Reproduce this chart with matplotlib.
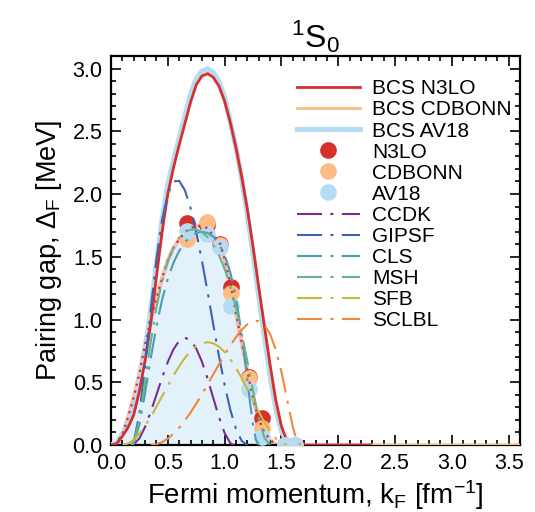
import matplotlib
matplotlib.use("Agg")
import matplotlib.pyplot as plt
from matplotlib.ticker import MultipleLocator

plt.rcParams['font.family'] = ['Liberation Sans', 'DejaVu Sans']
plt.rcParams['mathtext.fontset'] = 'custom'
plt.rcParams['mathtext.rm'] = 'Liberation Sans'
plt.rcParams['mathtext.it'] = 'Liberation Sans:italic'
plt.rcParams['mathtext.bf'] = 'Liberation Sans:bold'

# ---- BCS gaps (solid curves) ----
bcs_n3lo_k = [0.00, 0.05, 0.10, 0.15, 0.20, 0.25, 0.30, 0.35, 0.40, 0.45,
              0.50, 0.55, 0.60, 0.65, 0.70, 0.75, 0.80, 0.85, 0.90, 0.95,
              1.00, 1.05, 1.10, 1.15, 1.20, 1.25, 1.30, 1.35, 1.40, 1.45,
              1.50, 1.55, 1.60, 2.28]
bcs_n3lo_gap = [0.0, 0.01, 0.07, 0.14, 0.24, 0.43, 0.67, 0.97, 1.34, 1.70,
                2.00, 2.21, 2.39, 2.56, 2.73, 2.87, 2.94, 2.96, 2.93, 2.86,
                2.74, 2.57, 2.37, 2.14, 1.88, 1.58, 1.26, 0.95, 0.64, 0.36,
                0.15, 0.03, 0.0, 0.0]

bcs_cdbonn_k = [0.00, 0.05, 0.10, 0.15, 0.20, 0.25, 0.30, 0.35, 0.40, 0.45,
                0.50, 0.55, 0.60, 0.65, 0.70, 0.75, 0.80, 0.85, 0.90, 0.95,
                1.00, 1.05, 1.10, 1.15, 1.20, 1.25, 1.30, 1.35, 1.40, 1.45,
                1.50, 1.55, 1.60, 3.60]
bcs_cdbonn_gap = [0.0, 0.02, 0.09, 0.17, 0.28, 0.50, 0.76, 1.08, 1.45, 1.80,
                  2.08, 2.27, 2.45, 2.62, 2.80, 2.92, 2.98, 2.99, 2.96, 2.88,
                  2.74, 2.55, 2.33, 2.08, 1.79, 1.47, 1.13, 0.81, 0.51, 0.25,
                  0.09, 0.01, 0.0, 0.0]

bcs_av18_k = [0.00, 0.05, 0.10, 0.15, 0.20, 0.25, 0.30, 0.35, 0.40, 0.45,
              0.50, 0.55, 0.60, 0.65, 0.70, 0.75, 0.80, 0.85, 0.90, 0.95,
              1.00, 1.05, 1.10, 1.15, 1.20, 1.25, 1.30, 1.35, 1.40, 1.45,
              1.50, 1.55, 1.60, 1.65]
bcs_av18_gap = [0.0, 0.02, 0.09, 0.17, 0.28, 0.50, 0.76, 1.08, 1.45, 1.80,
                2.08, 2.27, 2.45, 2.62, 2.80, 2.92, 2.98, 3.00, 2.97, 2.90,
                2.77, 2.58, 2.37, 2.12, 1.84, 1.52, 1.19, 0.87, 0.56, 0.29,
                0.11, 0.02, 0.0, 0.0]

# ---- many-body results (markers) ----
n3lo_k = [0.668, 0.845, 0.963, 1.060, 1.215, 1.333, 1.530, 1.618]
n3lo_gap = [1.770, 1.750, 1.600, 1.256, 0.540, 0.212, 0.0, 0.0]
cdbonn_k = [0.668, 0.845, 0.963, 1.060, 1.215, 1.333, 1.530, 1.618]
cdbonn_gap = [1.638, 1.778, 1.590, 1.213, 0.531, 0.138, 0.0, 0.0]
av18_k = [0.668, 0.845, 0.963, 1.060, 1.215, 1.333, 1.530, 1.618]
av18_gap = [1.706, 1.685, 1.574, 1.107, 0.443, 0.061, 0.0, 0.0]

# band spanned by the many-body results
band_k = [0.03, 0.10, 0.15, 0.20, 0.25, 0.30, 0.35, 0.40, 0.45, 0.50,
          0.55, 0.60, 0.668, 0.75, 0.845, 0.963, 1.00, 1.06, 1.10, 1.15,
          1.215, 1.27, 1.333, 1.40, 1.46]
band_gap = [0.0, 0.08, 0.22, 0.38, 0.57, 0.80, 1.00, 1.17, 1.33, 1.47,
            1.57, 1.64, 1.71, 1.75, 1.73, 1.60, 1.48, 1.25, 1.05, 0.82,
            0.52, 0.30, 0.13, 0.04, 0.0]

# ---- phenomenological parametrisations (dash-dot) ----
ccdk_k = [0.18, 0.20, 0.25, 0.30, 0.35, 0.40, 0.45, 0.50, 0.55, 0.60,
          0.65, 0.70, 0.75, 0.80, 0.85, 0.90, 0.95, 1.00, 1.05, 1.08]
ccdk_gap = [0.0, 0.005, 0.053, 0.144, 0.265, 0.400, 0.537, 0.662, 0.763, 0.830,
            0.855, 0.835, 0.770, 0.665, 0.529, 0.375, 0.224, 0.096, 0.015, 0.0]

gipsf_k = [0.18, 0.20, 0.25, 0.30, 0.35, 0.40, 0.45, 0.50, 0.55, 0.60, 0.65,
           0.70, 0.75, 0.80, 0.85, 0.90, 0.95, 1.00, 1.05, 1.10, 1.15, 1.20]
gipsf_gap = [0.0, 0.022, 0.247, 0.637, 1.078, 1.481, 1.795, 2.001, 2.101, 2.105,
             2.031, 1.889, 1.698, 1.470, 1.221, 0.962, 0.710, 0.479, 0.281,
             0.129, 0.033, 0.0]

cls_k = [0.18, 0.20, 0.25, 0.30, 0.35, 0.40, 0.45, 0.50, 0.55, 0.60, 0.65,
         0.70, 0.75, 0.80, 0.85, 0.90, 0.95, 1.00, 1.05, 1.10, 1.15, 1.175,
         1.20, 1.225, 1.25, 1.275, 1.30]
cls_gap = [0.0, 0.014, 0.162, 0.413, 0.692, 0.947, 1.159, 1.325, 1.452, 1.547,
           1.615, 1.662, 1.690, 1.699, 1.690, 1.661, 1.605, 1.515, 1.377, 1.174,
           0.886, 0.711, 0.520, 0.329, 0.161, 0.043, 0.0]

msh_k = [0.18, 0.20, 0.25, 0.30, 0.35, 0.40, 0.45, 0.50, 0.55, 0.60, 0.65,
         0.70, 0.75, 0.80, 0.85, 0.90, 0.95, 1.00, 1.05, 1.10, 1.15, 1.20,
         1.25, 1.30, 1.35, 1.40]
msh_gap = [0.0, 0.018, 0.203, 0.506, 0.823, 1.096, 1.308, 1.465, 1.576, 1.651,
           1.696, 1.717, 1.717, 1.697, 1.657, 1.596, 1.513, 1.403, 1.265, 1.096,
           0.895, 0.668, 0.431, 0.214, 0.058, 0.0]

sfb_k = [0.10, 0.15, 0.20, 0.25, 0.30, 0.35, 0.40, 0.45, 0.50, 0.55, 0.60,
         0.65, 0.70, 0.75, 0.80, 0.85, 0.90, 0.95, 1.00, 1.05, 1.10, 1.15,
         1.20, 1.25, 1.30, 1.35, 1.40, 1.45, 1.50, 1.55]
sfb_gap = [0.0, 0.011, 0.042, 0.090, 0.153, 0.225, 0.305, 0.389, 0.473, 0.554,
           0.628, 0.694, 0.747, 0.787, 0.812, 0.819, 0.810, 0.784, 0.741, 0.684,
           0.613, 0.533, 0.445, 0.355, 0.266, 0.183, 0.110, 0.052, 0.014, 0.0]

sclbl_k = [0.35, 0.40, 0.45, 0.50, 0.55, 0.60, 0.65, 0.70, 0.75, 0.80, 0.85,
           0.90, 0.95, 1.00, 1.05, 1.10, 1.15, 1.20, 1.25, 1.30, 1.35, 1.40,
           1.45, 1.50, 1.55, 1.575, 1.60, 1.625, 1.65, 1.67]
sclbl_gap = [0.0, 0.006, 0.023, 0.051, 0.090, 0.138, 0.195, 0.259, 0.329, 0.404,
             0.483, 0.563, 0.642, 0.720, 0.793, 0.860, 0.918, 0.962, 0.987, 0.988,
             0.958, 0.885, 0.761, 0.583, 0.364, 0.251, 0.148, 0.065, 0.014, 0.0]

RED = '#d7302b'
ORANGE = '#fdbd82'
LIGHTBLUE = '#b5dcf4'

fig = plt.figure(figsize=(5.35, 5.12), dpi=100)
ax = fig.add_axes([111 / 535, 67 / 512, 409 / 535, 389 / 512])

# shaded band of the many-body calculations
ax.fill_between(band_k, 0, band_gap, color='#e3f1fb', lw=0, zorder=1)
ax.plot(band_k, band_gap, color='#f3a9a6', lw=3.0, alpha=0.7, zorder=1.5)
ax.plot(band_k, band_gap, color=RED, lw=1.6, ls=(0, (1.0, 2.2)), zorder=4.5)

# BCS curves
ax.plot(bcs_n3lo_k, bcs_n3lo_gap, color=RED, lw=2.0, zorder=3.2, label='BCS N3LO')
ax.plot(bcs_cdbonn_k, bcs_cdbonn_gap, color=ORANGE, lw=2.0, zorder=2.8, label='BCS CDBONN')
ax.plot(bcs_av18_k, bcs_av18_gap, color=LIGHTBLUE, lw=3.6, zorder=3.0, label='BCS AV18')

# many-body points
ms = 12
ax.plot(n3lo_k, n3lo_gap, 'o', color=RED, ms=ms, mew=0, zorder=4.0, label='N3LO')
ax.plot(cdbonn_k, cdbonn_gap, 'o', color=ORANGE, ms=ms, mew=0, zorder=4.1, label='CDBONN')
ax.plot(av18_k, av18_gap, 'o', color=LIGHTBLUE, ms=ms, mew=0, zorder=4.2, label='AV18')

# phenomenological gaps
dash = (0, (12, 4, 1.5, 4))
pheno = [
    (ccdk_k, ccdk_gap, '#7b2d8e', 'CCDK'),
    (gipsf_k, gipsf_gap, '#3d62b2', 'GIPSF'),
    (cls_k, cls_gap, '#4a9db7', 'CLS'),
    (msh_k, msh_gap, '#67b38b', 'MSH'),
    (sfb_k, sfb_gap, '#c8b93c', 'SFB'),
    (sclbl_k, sclbl_gap, '#f0883b', 'SCLBL'),
]
for kk, gg, col, name in pheno:
    ax.plot(kk, gg, color=col, lw=1.5, ls=dash, zorder=5, label=name)

ax.set_xlim(0, 3.6)
ax.set_ylim(0, 3.1)
ax.xaxis.set_minor_locator(MultipleLocator(0.1))
ax.yaxis.set_major_locator(MultipleLocator(0.5))
ax.yaxis.set_minor_locator(MultipleLocator(0.1))
ax.set_xticks([0.0, 0.5, 1.0, 1.5, 2.0, 2.5, 3.0, 3.5])
ax.set_xticklabels(['0.0', '0.5', '1.0', '1.5', '2.0', '2.5', '3.0', '3.5'])
ax.tick_params(which='both', direction='in', top=True, right=True,
               labelsize=15.5, width=1.2)
ax.tick_params(which='major', length=7, pad=6)
ax.tick_params(which='minor', length=3.5)
for sp in ax.spines.values():
    sp.set_linewidth(1.6)

ax.set_xlabel('Fermi momentum, k$_\\mathrm{F}$ [fm$^{-1}$]', fontsize=20, labelpad=3)
ax.set_ylabel('Pairing gap, \u0394$_\\mathrm{F}$ [MeV]', fontsize=19.5, labelpad=6)
ax.set_title('$^{1}$S$_{0}$', fontsize=23, pad=6)

leg = ax.legend(loc='upper left', bbox_to_anchor=(0.455, 0.94), frameon=False,
                fontsize=15, handlelength=3.0, handletextpad=0.6,
                labelspacing=0.1, borderpad=0, borderaxespad=0, numpoints=1)

fig.savefig('out.png', dpi=100)
